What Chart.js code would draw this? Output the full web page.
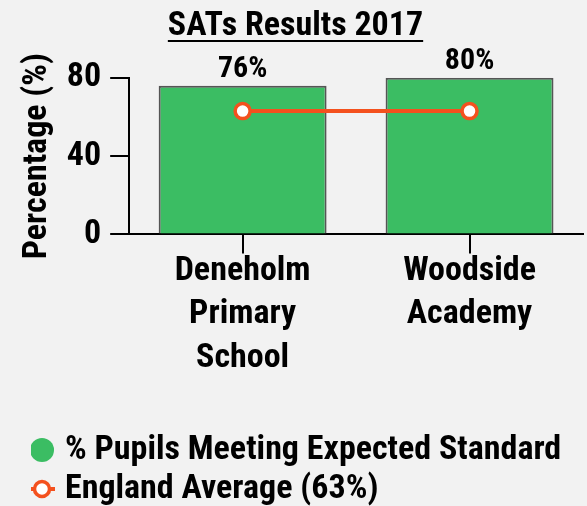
<!DOCTYPE html>
<html>
<head>
<meta charset="utf-8">
<script src="https://cdn.jsdelivr.net/npm/chart.js@4"></script>
<style>
html,body{margin:0;padding:0;background:#f2f2f2;}
#wrap{width:587px;height:506px;}
</style>
</head>
<body>
<div id="wrap"><canvas id="c" width="587" height="506"></canvas></div>
<script>
const categories = [["Deneholm","Primary","School"],["Woodside","Academy"]];
const pupilsMeeting = [76, 80];
const englandAverage = [63, 63];
const yTicks = [0, 40, 80];
const titleText = "SATs Results 2017";
const seriesNames = ["% Pupils Meeting Expected Standard", "England Average (63%)"];

const FONT = "'Roboto Condensed', 'Liberation Sans Narrow', 'DejaVu Sans Condensed', sans-serif";
const GREEN = '#3bbd63';
const ORANGE = '#f4511e';
const INK = '#000000';

// legend icon for the average line: a ring with short line stubs
function ringIcon() {
  const c = document.createElement('canvas');
  c.width = 28; c.height = 24;
  const g = c.getContext('2d');
  g.strokeStyle = ORANGE;
  g.lineWidth = 4;
  g.beginPath(); g.moveTo(1, 12); g.lineTo(27, 12); g.stroke();
  g.beginPath(); g.arc(14, 12, 7.5, 0, Math.PI * 2);
  g.fillStyle = '#ffffff'; g.fill();
  g.lineWidth = 3.5; g.stroke();
  return c;
}
const RING = ringIcon();

const extras = {
  id: 'extras',
  afterLayout(chart) {
    const lg = chart.legend;
    lg.left += 23; lg.right += 23;
    lg.top += 10; lg.bottom += 10;
  },
  afterDatasetsDraw(chart) {
    const ctx = chart.ctx;
    const meta = chart.getDatasetMeta(0);
    ctx.save();
    ctx.font = "bold 30px " + FONT;
    ctx.fillStyle = INK;
    ctx.textAlign = 'center';
    ctx.textBaseline = 'alphabetic';
    meta.data.forEach((bar, i) => {
      ctx.fillText(pupilsMeeting[i] + '%', bar.x, bar.y - 9);
    });
    ctx.restore();
  },
  afterDraw(chart) {
    const t = chart.titleBlock;
    const ctx = chart.ctx;
    ctx.save();
    ctx.font = "bold 34px " + FONT;
    const w = ctx.measureText(titleText).width;
    const cx = (t.left + t.right) / 2;
    ctx.fillStyle = INK;
    ctx.fillRect(cx - w / 2, t.top + 34, w, 2);
    ctx.restore();
  }
};

new Chart(document.getElementById('c'), {
  plugins: [extras],
  data: {
    labels: categories,
    datasets: [
      {
        type: 'bar',
        label: seriesNames[0],
        data: pupilsMeeting,
        backgroundColor: GREEN,
        borderColor: '#555555',
        borderWidth: 2,
        categoryPercentage: 0.74,
        barPercentage: 1.0,
        order: 2
      },
      {
        type: 'line',
        label: seriesNames[1],
        data: englandAverage,
        borderColor: ORANGE,
        backgroundColor: '#ffffff',
        borderWidth: 4,
        pointRadius: 7.5,
        pointBorderWidth: 3.5,
        pointBackgroundColor: '#ffffff',
        pointBorderColor: ORANGE,
        pointStyle: 'circle',
        order: 1
      }
    ]
  },
  options: {
    responsive: false,
    animation: false,
    devicePixelRatio: 1,
    layout: { autoPadding: false, padding: { left: 8, right: 4, top: 6, bottom: 0 } },
    plugins: {
      title: {
        display: true,
        text: titleText,
        color: INK,
        font: { family: FONT, size: 34, weight: 'bold' },
        padding: { top: 0, bottom: 31 }
      },
      legend: {
        position: 'bottom',
        align: 'start',
        labels: {
          usePointStyle: true,
          boxWidth: 12,
          boxHeight: 17,
          padding: 5,
          color: INK,
          font: { family: FONT, size: 34, weight: 'bold' },
          generateLabels(chart) {
            return chart.data.datasets.map((ds, i) => ({
              text: ds.label,
              datasetIndex: i,
              fillStyle: i === 0 ? GREEN : '#ffffff',
              strokeStyle: i === 0 ? GREEN : ORANGE,
              lineWidth: 0,
              pointStyle: i === 0 ? 'circle' : RING,
              fontColor: INK,
              hidden: false
            }));
          }
        }
      },
      tooltip: { enabled: false }
    },
    scales: {
      x: {
        afterFit(scale) { scale.height += 42; },
        grid: { display: true, drawOnChartArea: false, offset: false, tickLength: 19, color: INK, lineWidth: 2 },
        border: { display: true, color: INK, width: 2 },
        ticks: { color: INK, font: { family: FONT, size: 34, weight: 'bold', lineHeight: 1.28 }, padding: -4, maxRotation: 0, autoSkip: false }
      },
      y: {
        min: 0, max: 80,
        grid: { display: true, drawOnChartArea: false, tickLength: 19, color: INK, lineWidth: 2 },
        border: { display: true, color: INK, width: 2 },
        ticks: {
          stepSize: 20,
          color: INK,
          padding: 9,
          font: { family: FONT, size: 34, weight: 'bold' },
          callback: (v) => yTicks.includes(v) ? String(v) : ''
        },
        title: { display: true, text: 'Percentage (%)', color: INK, font: { family: FONT, size: 34, weight: 'bold' }, padding: { top: 9, bottom: 0 } }
      }
    }
  }
});
</script>
</body>
</html>
